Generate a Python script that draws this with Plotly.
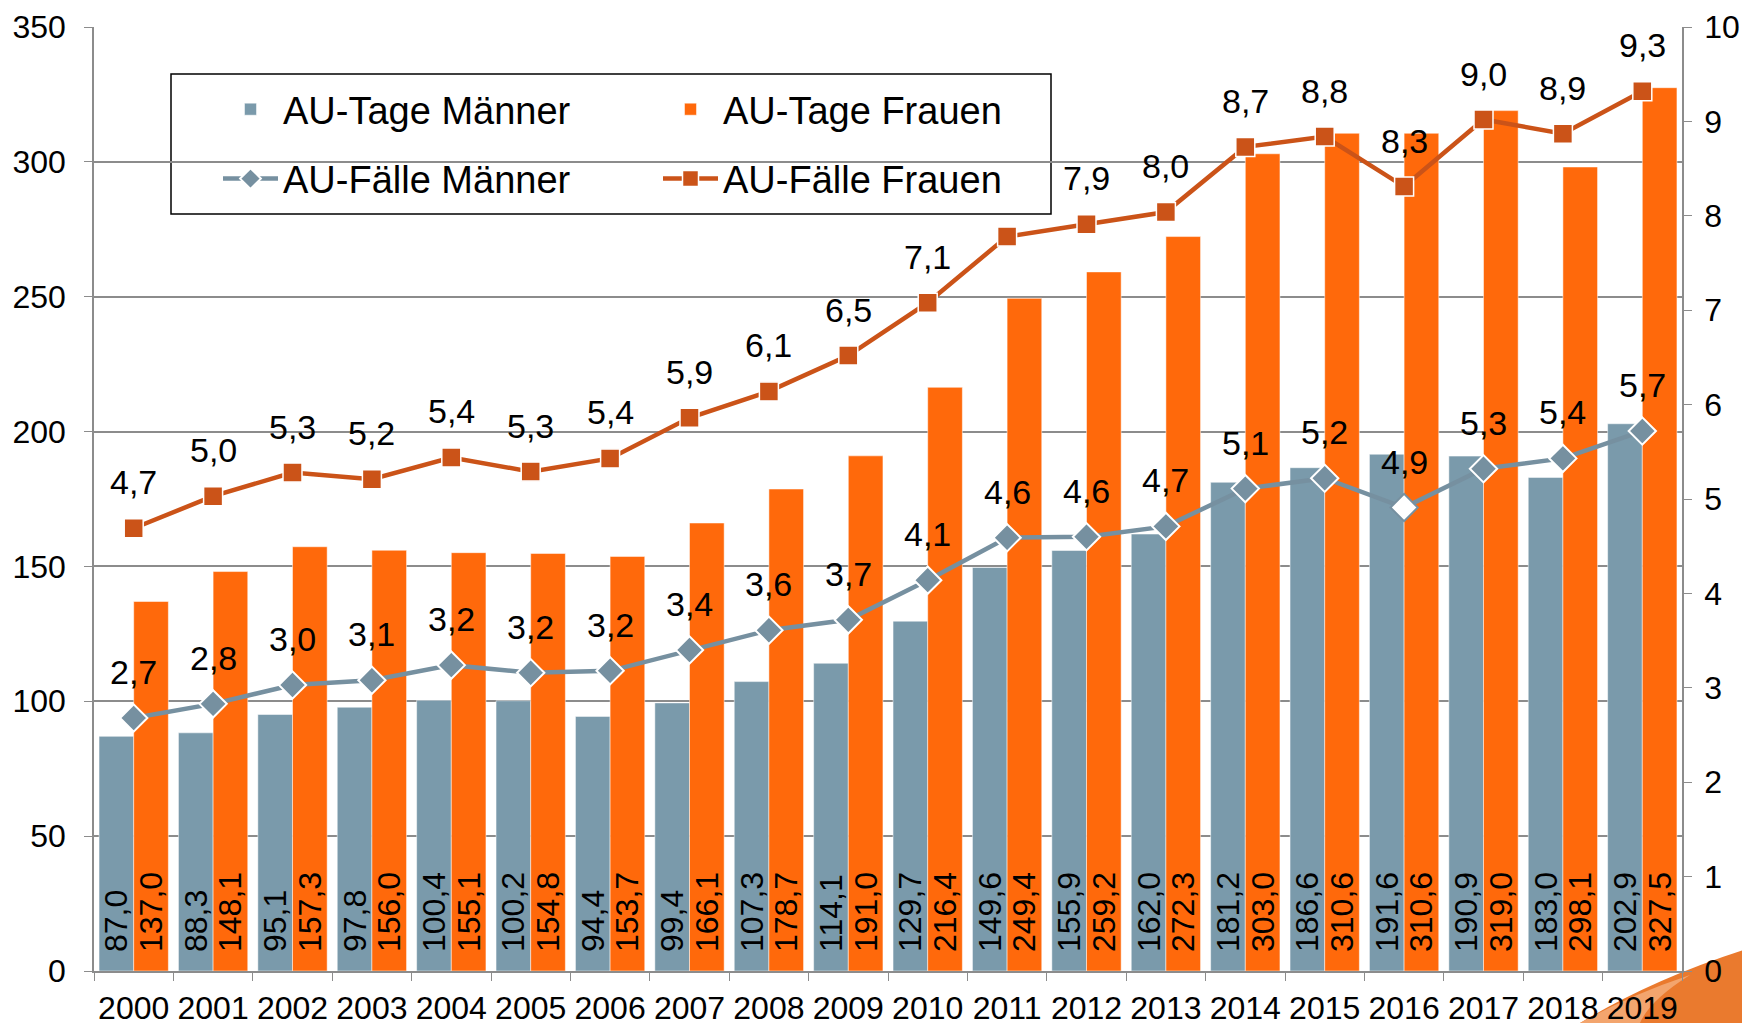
import plotly.graph_objects as go

years = [str(y) for y in range(2000, 2020)]
tage_maenner = [87.0, 88.3, 95.1, 97.8, 100.4, 100.2, 94.4, 99.4, 107.3, 114.1,
                129.7, 149.6, 155.9, 162.0, 181.2, 186.6, 191.6, 190.9, 183.0, 202.9]
tage_frauen = [137.0, 148.1, 157.3, 156.0, 155.1, 154.8, 153.7, 166.1, 178.7, 191.0,
               216.4, 249.4, 259.2, 272.3, 303.0, 310.6, 310.6, 319.0, 298.1, 327.5]
faelle_maenner = [2.68, 2.83, 3.03, 3.08, 3.24, 3.16, 3.18, 3.40, 3.61, 3.72,
                  4.14, 4.59, 4.60, 4.71, 5.11, 5.22, 4.91, 5.32, 5.43, 5.72]
faelle_frauen = [4.69, 5.03, 5.28, 5.21, 5.44, 5.29, 5.43, 5.86, 6.14, 6.52,
                 7.08, 7.78, 7.91, 8.04, 8.73, 8.84, 8.31, 9.02, 8.87, 9.32]
frauen_label_shown = [True] * 11 + [False] + [True] * 8
highlight_year = "2016"

FONT = "Liberation Sans, Arial, sans-serif"
GREY_BAR = "#7A9AAB"
ORANGE_BAR = "#FF690B"
GREY_LINE = "#7690A0"
ORANGE_LINE = "#CB5318"

def fmt(v):
    return f"{v:.1f}".replace(".", ",")

m_fill = ["white" if y == highlight_year else GREY_LINE for y in years]
m_edge = [GREY_LINE if y == highlight_year else "white" for y in years]

fig = go.Figure()
fig.add_trace(go.Bar(
    x=years, y=tage_maenner, name="AU-Tage Männer", marker_color=GREY_BAR,
    marker_line=dict(color="white", width=0.5),
    text=["\u2002" + fmt(v) for v in tage_maenner], textposition="inside",
    insidetextanchor="start", textangle=-90, constraintext="none",
    textfont=dict(family=FONT, size=32, color="black"),
    legend="legend", legendgroup="a"))
fig.add_trace(go.Bar(
    x=years, y=tage_frauen, name="AU-Tage Frauen", marker_color=ORANGE_BAR,
    marker_line=dict(color="white", width=0.5),
    text=["\u2002" + fmt(v) for v in tage_frauen], textposition="inside",
    insidetextanchor="start", textangle=-90, constraintext="none",
    textfont=dict(family=FONT, size=32, color="black"),
    legend="legend2", legendgroup="b"))
fig.add_trace(go.Scatter(
    x=years, y=faelle_maenner, yaxis="y2", name="AU-Fälle Männer", mode="lines+markers",
    line=dict(color=GREY_LINE, width=4.5),
    marker=dict(symbol="diamond", size=21, color=m_fill, line=dict(color=m_edge, width=2)),
    legend="legend", legendgroup="c"))
fig.add_trace(go.Scatter(
    x=years, y=faelle_frauen, yaxis="y2", name="AU-Fälle Frauen", mode="lines+markers",
    line=dict(color=ORANGE_LINE, width=4.5),
    marker=dict(symbol="square", size=19, color=ORANGE_LINE, line=dict(color="white", width=1.5)),
    legend="legend2", legendgroup="d"))

annotations = []
for i, v in enumerate(faelle_maenner):
    annotations.append(dict(x=i, y=v, xref="x", yref="y2", text=fmt(v), showarrow=False,
                            yshift=46, font=dict(family=FONT, size=34, color="black")))
for i, (v, show) in enumerate(zip(faelle_frauen, frauen_label_shown)):
    if show:
        annotations.append(dict(x=i, y=v, xref="x", yref="y2", text=fmt(v), showarrow=False,
                                yshift=46, font=dict(family=FONT, size=34, color="black")))

# page offset (body margin) between figure coords and screen coords
OFF = 8
W, H = 1750, 1023
# plot area in screen pixels
SL, SR, ST, SB = 94, 1682, 27, 971
L, R, T, B = SL - OFF, SR - OFF, ST - OFF, SB - OFF
pw, ph = R - L, B - T

def px(x):
    """screen x -> paper"""
    return (x - OFF - L) / pw

def py(y):
    """screen y -> paper"""
    return (B - (y - OFF)) / ph

shapes = [
    dict(type="rect", xref="paper", yref="paper", x0=px(171), x1=px(1051), y0=py(214), y1=py(74),
         line=dict(color="black", width=1.5), fillcolor="white", layer="below"),
    dict(type="path", xref="paper", yref="paper", layer="below",
         path=f"M {px(1580)},{py(1023)} Q {px(1660)},{py(975)} {px(1760)},{py(945)} "
              f"L {px(1760)},{py(1023)} Z",
         fillcolor="#EA7A2E", line=dict(width=0)),
    dict(type="path", xref="paper", yref="paper", layer="below",
         path=f"M {px(1580)},{py(1023)} Q {px(1630)},{py(995)} {px(1690)},{py(975)} "
              f"Q {px(1650)},{py(1000)} {px(1640)},{py(1023)} Z",
         fillcolor="#F3A56E", line=dict(width=0)),
]

legend_common = dict(font=dict(family=FONT, size=38, color="black"), bgcolor="rgba(0,0,0,0)",
                     borderwidth=0, orientation="v", xanchor="left", yanchor="top",
                     tracegroupgap=17, itemwidth=55, traceorder="grouped")

AX = "#8C8C8C"
fig.update_layout(
    width=W, height=H,
    margin=dict(l=L, r=W - R, t=T, b=H - B, autoexpand=False),
    paper_bgcolor="white", plot_bgcolor="white",
    barmode="group", bargap=0.127, bargroupgap=0,
    font=dict(family=FONT, size=33, color="black"),
    xaxis=dict(type="category", showgrid=False, showline=True, linecolor=AX, linewidth=1.5,
               ticks="outside", tickson="boundaries", ticklen=8, tickcolor=AX,
               tickangle=0, range=[-0.5, len(years) - 0.5], automargin=False,
               ticklabelstandoff=8,
               tickfont=dict(family=FONT, size=32, color="black")),
    yaxis=dict(range=[0, 350], dtick=50, showgrid=True, gridcolor=AX, gridwidth=1.5,
               showline=True, linecolor=AX, linewidth=1.5, ticks="outside", ticklen=8,
               tickcolor=AX, zeroline=False, ticklabelstandoff=12, automargin=False,
               tickfont=dict(family=FONT, size=32, color="black")),
    yaxis2=dict(range=[0, 10], dtick=1, overlaying="y", side="right", showgrid=False,
                showline=True, linecolor=AX, linewidth=1.5, ticks="outside", ticklen=8,
                tickcolor=AX, zeroline=False, ticklabelstandoff=6, automargin=False,
                tickfont=dict(family=FONT, size=32, color="black")),
    legend=dict(x=px(218), y=py(78), **legend_common),
    legend2=dict(x=px(658), y=py(78), **legend_common),
    annotations=annotations,
    shapes=shapes,
    showlegend=True,
)

fig.write_html("out.html")
